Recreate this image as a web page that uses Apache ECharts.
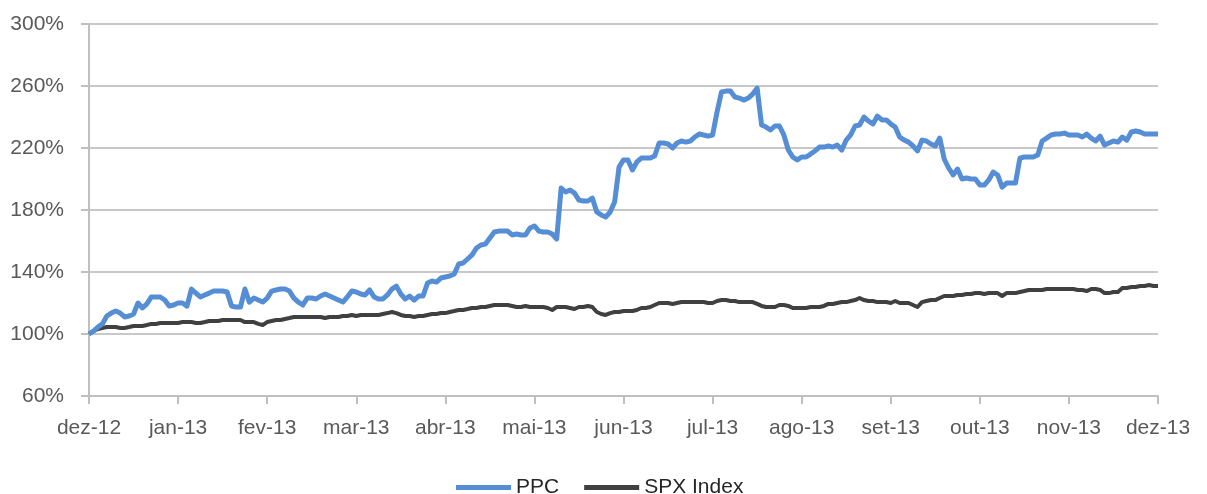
<!DOCTYPE html>
<html>
<head>
<meta charset="utf-8">
<script src="https://cdn.jsdelivr.net/npm/echarts@6/dist/echarts.min.js"></script>
<style>
html,body{margin:0;padding:0;background:#fff;}
#chart{width:1207px;height:494px;}
</style>
</head>
<body>
<div id="chart"></div>
<script>
// Month tick labels (one label every 20 observations)
const monthLabels = ['dez-12','jan-13','fev-13','mar-13','abr-13','mai-13','jun-13','jul-13','ago-13','set-13','out-13','nov-13','dez-13'];
const pointsPerMonth = 20;

// PPC (% of start value)
const ppc = [
  100,101.9,104.5,106.5,111.6,113.5,114.8,113.5,111,111.6,112.9,120,116.8,119.4,123.9,123.9,123.9,121.9,118,118.7,
  120,120,118,129,126.4,123.9,125.2,126.4,127.7,127.7,127.7,127.1,118,117.4,117.4,129,120.6,123.2,121.9,120.6,
  123.2,127.7,128.4,129,129,127.7,123.2,120.6,118.7,123.2,123.2,122.6,124.5,125.8,124.5,123.2,121.9,120.6,123.9,127.7,
  127.1,125.8,125.2,128.4,123.9,122.6,122.6,125.2,129,130.9,125.8,122.6,124.5,121.9,124.5,124.5,132.9,134.2,133.5,136.1,
  136.8,137.4,138.7,145.2,145.8,148.4,151,155.5,157.4,158,161.9,165.8,166.4,166.4,166.4,163.9,164.5,163.9,163.9,168.4,
  169.7,166.4,165.8,165.8,164.5,161.3,194.2,191.6,192.9,190.9,186.4,185.8,185.8,187.7,178.7,176.8,175.5,178.7,185.1,207.7,
  212.3,212.3,205.8,211,213.5,213.5,213.5,214.8,223.2,223.2,222.6,220,223.2,224.5,223.8,224.5,227.1,229,228.4,227.7,
  228.4,243.2,256.1,256.7,256.7,252.9,252.2,250.9,252.2,254.8,258.6,234.8,233.5,231.6,234.2,234.2,228.4,218.7,214.2,212.3,
  214.2,214.2,216.1,218.1,220.6,220.6,221.3,220.6,221.9,218.7,225.1,228.4,234.2,234.8,240,237.4,235.5,240.6,238.1,238.1,
  235.5,233.5,227.1,225.1,223.8,221.3,218.1,225.1,224.5,222.6,221.3,226.4,212.9,207.1,202.6,206.4,200,200.6,200,200,
  196.1,196.1,199.4,204.5,202.6,194.8,197.4,197.4,197.4,213.5,214.2,214.2,214.2,215.5,224.5,226.4,228.4,229,229,229.6,
  228.4,228.4,228.4,227.1,229,226.4,224.5,227.7,221.9,223.2,224.5,223.8,227.1,225.1,230.3,231,230.3,229,229,229,229
];

// SPX Index (% of start value)
const spx = [
  100,101.9,103.2,103.9,104.5,104.5,104.5,103.9,103.9,104.5,105.2,105.2,105.2,105.8,106.5,106.5,107.1,107.1,107.1,107.1,
  107.1,107.7,107.7,107.7,107.1,107.1,107.7,108.4,108.4,108.4,109,109,109,109,109,107.7,107.7,107.7,106.5,105.8,
  107.7,108.4,109,109,109.7,110.3,111,111,111,111,111,111,111,110.3,111,111,111,111.6,111.6,112.3,
  111.6,112.3,112.3,112.3,112.3,112.3,112.9,113.5,114.2,113.5,112.3,111.6,111.6,111,111.6,111.6,112.3,112.9,112.9,113.5,
  113.5,114.2,114.8,115.5,115.5,116.1,116.8,116.8,117.4,117.4,118.1,118.7,118.7,118.7,118.7,118.1,117.4,117.4,118.1,117.4,
  117.4,117.4,117.4,116.8,115.5,117.4,117.4,117.4,116.8,116.1,117.4,117.4,118.1,117.4,114.2,112.9,112.3,113.5,114.2,114.2,
  114.8,114.8,114.8,115.5,116.8,116.8,117.4,118.7,120,120,120,119.4,120,120.6,120.6,120.6,120.6,120.6,120.6,120,
  120,121.3,121.9,121.9,121.3,121.3,120.6,120.6,120.6,120.6,119.4,118.1,117.4,117.4,117.4,118.7,118.7,118.1,116.8,116.8,
  116.8,116.8,117.4,117.4,117.4,118.1,119.4,119.4,120,120.6,120.6,121.3,121.9,123.2,121.9,121.3,121.3,120.6,120.6,120.6,
  120,121.3,120,120,120,118.7,117.4,120.6,121.3,121.9,121.9,123.2,124.5,124.5,124.5,125.2,125.2,125.8,125.8,126.4,
  126.4,125.8,126.4,126.4,126.4,124.5,126.4,126.4,126.4,127.1,127.7,128.4,128.4,128.4,128.4,129,129,129,129,129,
  129,129,128.4,128.4,127.7,129,129,128.4,126.4,126.4,127.1,127.1,129.7,129.7,130.3,130.3,131,131,131.6,131,131
];

const yMin = 60, yMax = 300, yStep = 40;

// Category axis: one entry per observation
const categories = ppc.map((_, i) => 'p' + i);

const chart = echarts.init(document.getElementById('chart'), null, {renderer: 'canvas'});
const font = '"Liberation Sans", Arial, sans-serif';
const isMonthTick = (i) => i % pointsPerMonth === 0;

chart.setOption({
  animation: false,
  backgroundColor: '#ffffff',
  grid: {left: 89, right: 49, top: 24, bottom: 98, containLabel: false},
  legend: {
    left: 451, top: 472,
    icon: 'rect', itemWidth: 55, itemHeight: 5, itemGap: 25,
    textStyle: {fontFamily: font, fontSize: 21, color: '#262626'},
    data: ['PPC', 'SPX Index']
  },
  xAxis: {
    type: 'category',
    data: categories,
    boundaryGap: false,
    axisLine: {show: true, lineStyle: {color: '#BFBFBF', width: 2}},
    axisTick: {show: true, length: 8, interval: (i) => isMonthTick(i), lineStyle: {color: '#BFBFBF', width: 2}},
    axisLabel: {
      interval: (i) => isMonthTick(i),
      formatter: (v, i) => isMonthTick(i) ? monthLabels[i / pointsPerMonth] : '',
      fontFamily: font, fontSize: 21, color: '#595959', margin: 22
    },
    splitLine: {show: false}
  },
  yAxis: {
    type: 'value',
    min: yMin, max: yMax, interval: yStep,
    axisLine: {show: true, lineStyle: {color: '#BFBFBF', width: 2}},
    axisTick: {show: true, length: 8, lineStyle: {color: '#BFBFBF', width: 2}},
    axisLabel: {formatter: '{value}%', fontFamily: font, fontSize: 21, color: '#595959', margin: 25},
    splitLine: {show: true, lineStyle: {color: '#C8C8C8', width: 2}}
  },
  series: [
    {
      name: 'PPC', type: 'line', data: ppc, showSymbol: false, symbol: 'none',
      lineStyle: {color: '#558ED5', width: 5, join: 'round'}, itemStyle: {color: '#558ED5'}, z: 3
    },
    {
      name: 'SPX Index', type: 'line', data: spx, showSymbol: false, symbol: 'none',
      lineStyle: {color: '#404040', width: 4, join: 'round'}, itemStyle: {color: '#404040'}, z: 2
    }
  ]
});
</script>
</body>
</html>
